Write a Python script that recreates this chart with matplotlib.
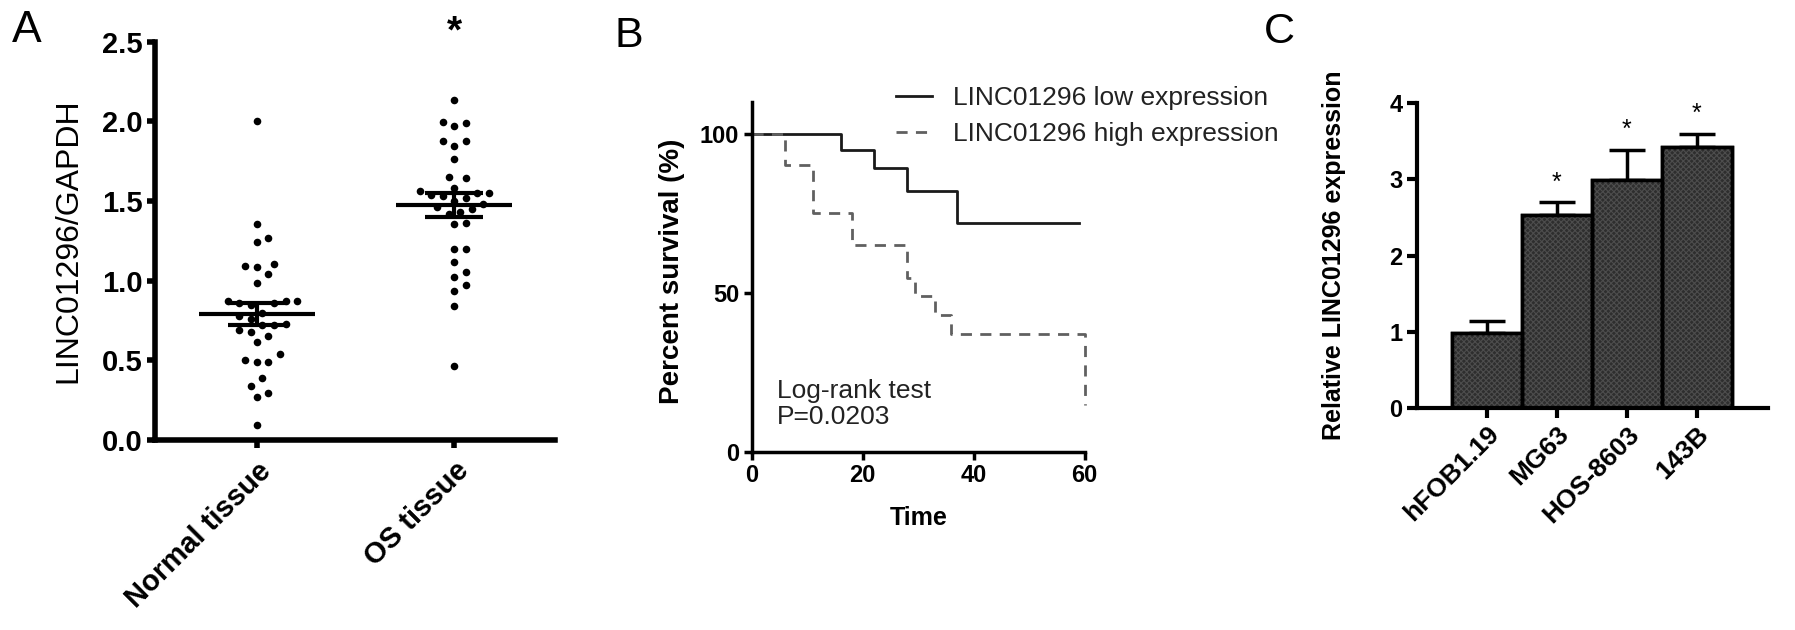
import matplotlib
matplotlib.use("Agg")
import matplotlib.pyplot as plt
import matplotlib.transforms as mtransforms
import numpy as np

plt.rcParams['font.family'] = ['Liberation Sans', 'DejaVu Sans']

# ---- Panel A data (LINC01296/GAPDH) ----
groups = ['Normal tissue', 'OS tissue']
normal_vals = [2.0, 1.355, 1.27, 1.245, 1.104, 1.093, 1.083, 1.04, 0.983,
               0.85, 0.87, 0.86, 0.87, 0.86, 0.87, 0.80, 0.78, 0.76, 0.73,
               0.72, 0.72, 0.69, 0.68, 0.654, 0.613, 0.54, 0.50, 0.49, 0.49,
               0.39, 0.34, 0.297, 0.27, 0.094]
os_vals = [2.133, 1.997, 1.972, 1.987, 1.876, 1.844, 1.876, 1.765, 1.652,
           1.642, 1.58, 1.56, 1.55, 1.55, 1.54, 1.53, 1.52, 1.50, 1.48, 1.46,
           1.45, 1.43, 1.42, 1.36, 1.355, 1.196, 1.196, 1.115, 1.056, 1.025,
           0.972, 0.937, 0.843, 0.464]
group_mean = [0.79, 1.474]
group_sem = [0.07, 0.074]

# ---- Panel B data (Kaplan-Meier) ----
low_time = [0, 16, 22, 28, 37, 59]
low_surv = [100, 94.9, 89.1, 82.0, 71.9, 71.9]
high_time = [0, 6, 11, 18, 28, 29.5, 33, 36, 60]
high_surv = [100, 90.1, 75.1, 64.9, 54.5, 48.9, 42.9, 37.1, 14.6]

# ---- Panel C data (cell lines) ----
cell_lines = ['hFOB1.19', 'MG63', 'HOS-8603', '143B']
rel_expr = [0.99, 2.54, 2.99, 3.42]
rel_err = [0.15, 0.16, 0.40, 0.18]
signif = ['', '*', '*', '*']

W, H = 1795, 630
fig = plt.figure(figsize=(W / 100, H / 100), dpi=100)


def swarm(vals, px_x, px_y, gap):
    # simple beeswarm: offsets in data units so dots don't overlap
    vals = np.asarray(vals, dtype=float)
    offs = np.zeros(len(vals))
    placed = []
    steps = [0]
    for k in range(1, 12):
        steps += [k * gap / 2, -k * gap / 2]
    for i in np.argsort(vals):
        y = vals[i] * px_y
        for c in steps:
            if all((c - px) ** 2 + (y - py) ** 2 >= gap ** 2 for px, py in placed):
                break
        placed.append((c, y))
        offs[i] = c / px_x
    return offs


# ================= Panel A =================
axA = fig.add_axes([155 / W, 1 - 440 / H, 400 / W, 398.3 / H])
axA.set_xlim(-0.515, 1.51)
axA.set_ylim(0, 2.5)
for i, vals in enumerate([normal_vals, os_vals]):
    off = swarm(vals, 197.3, 159.4, 11.5)
    axA.scatter(i + off, vals, s=30, color='black', zorder=2, linewidths=0)
    axA.hlines(group_mean[i], i - 0.294, i + 0.294, color='black', lw=3, zorder=3)
    axA.errorbar(i, group_mean[i], yerr=group_sem[i], fmt='none', ecolor='black',
                 elinewidth=3, capsize=21, capthick=3, zorder=3)
axA.text(1, 2.56, '*', ha='center', va='center', fontsize=28, fontweight='bold',
         clip_on=False)
axA.set_xticks([0, 1])
axA.set_xticklabels(groups, rotation=45, ha='right', va='top',
                    rotation_mode='anchor', fontsize=21, fontweight='bold')
shiftA = mtransforms.ScaledTranslation(-9 / 100, 0, fig.dpi_scale_trans)
for lab in axA.get_xticklabels():
    lab.set_transform(lab.get_transform() + shiftA)
axA.set_yticks(np.arange(0, 2.51, 0.5))
axA.set_yticklabels([f'{v:.1f}' for v in np.arange(0, 2.51, 0.5)],
                    fontsize=21, fontweight='bold')
axA.set_ylabel('LINC01296/GAPDH', fontsize=23)
axA.yaxis.set_label_coords(-0.18, 0.5)
for s in ['top', 'right']:
    axA.spines[s].set_visible(False)
for s in ['left', 'bottom']:
    axA.spines[s].set_linewidth(4)
axA.tick_params(width=4, length=6, pad=3)
axA.tick_params(axis='x', pad=6)

# ================= Panel B =================
axB = fig.add_axes([751.8 / W, 1 - 451.8 / H, 332.8 / W, 350 / H])
axB.set_xlim(0, 60)
axB.set_ylim(0, 110)
axB.step(low_time, low_surv, where='post', color='#1a1a1a', lw=2,
         label='LINC01296 low expression', clip_on=False)
axB.step(high_time, high_surv, where='post', color='#606060', lw=2,
         linestyle=(0, (4, 3)), label='LINC01296 high expression', clip_on=False)
axB.text(4.5, 23, 'Log-rank test\nP=0.0203', ha='left', va='top', fontsize=19,
         linespacing=1.1, color='#222222')
axB.legend(loc='upper left', bbox_to_anchor=(896 / W, 1 - 86 / H),
           bbox_transform=fig.transFigure, frameon=False, fontsize=19,
           handlelength=1.35, handletextpad=0.8, labelspacing=0.45,
           borderpad=0, borderaxespad=0, labelcolor='#222222')
axB.set_xticks([0, 20, 40, 60])
axB.set_yticks([0, 50, 100])
for lab in axB.get_xticklabels() + axB.get_yticklabels():
    lab.set_fontweight('bold')
    lab.set_fontsize(17)
axB.set_xlabel('Time', fontsize=18, fontweight='bold')
axB.set_ylabel('Percent survival (%)', fontsize=20, fontweight='bold')
axB.xaxis.set_label_coords(0.5, -0.155)
axB.yaxis.set_label_coords(-0.2, 0.515)
for s in ['top', 'right']:
    axB.spines[s].set_visible(False)
for s in ['left', 'bottom']:
    axB.spines[s].set_linewidth(2.5)
axB.tick_params(width=2.5, length=6, pad=3)

# ================= Panel C =================
axC = fig.add_axes([1416.5 / W, 1 - 408 / H, 351.5 / W, 304.7 / H])
axC.set_xlim(-1.003, 4.02)
axC.set_ylim(0, 4)
xc = np.arange(len(cell_lines))
axC.bar(xc, rel_expr, width=1.0, color='#2e2e2e', edgecolor='black', lw=2.5,
        zorder=2)
plt.rcParams['hatch.linewidth'] = 0.8
axC.bar(xc, rel_expr, width=1.0, color='none', edgecolor='#4d4d4d', lw=0,
        hatch='xxxxxx', zorder=2)
axC.bar(xc, rel_expr, width=1.0, color='none', edgecolor='black', lw=2.5,
        zorder=3)
axC.errorbar(xc, rel_expr, yerr=[np.zeros(len(xc)), rel_err], fmt='none',
             ecolor='black', elinewidth=2.5, capsize=13, capthick=2.5, zorder=1)
for i, s in enumerate(signif):
    if s:
        axC.text(xc[i], rel_expr[i] + rel_err[i] + 0.1, s, ha='center',
                 va='bottom', fontsize=18)
axC.set_xticks(xc)
axC.set_xticklabels(cell_lines, rotation=45, ha='right', va='top',
                    rotation_mode='anchor', fontsize=19, fontweight='bold')
axC.set_yticks([0, 1, 2, 3, 4])
axC.set_yticklabels(['0', '1', '2', '3', '4'], fontsize=17, fontweight='bold')
axC.set_ylabel('Relative LINC01296 expression', fontsize=18, fontweight='bold')
axC.yaxis.set_label_coords(-0.2, 0.5)
for s in ['top', 'right']:
    axC.spines[s].set_visible(False)
for s in ['left', 'bottom']:
    axC.spines[s].set_linewidth(3)
axC.tick_params(width=3, length=7, pad=3)

# panel letters
fig.text(12 / W, 1 - 10 / H, 'A', fontsize=32, va='top', ha='left')
fig.text(615 / W, 1 - 16 / H, 'B', fontsize=31, va='top', ha='left')
fig.text(1264 / W, 1 - 12 / H, 'C', fontsize=31, va='top', ha='left')

fig.savefig('out.png', dpi=100)
